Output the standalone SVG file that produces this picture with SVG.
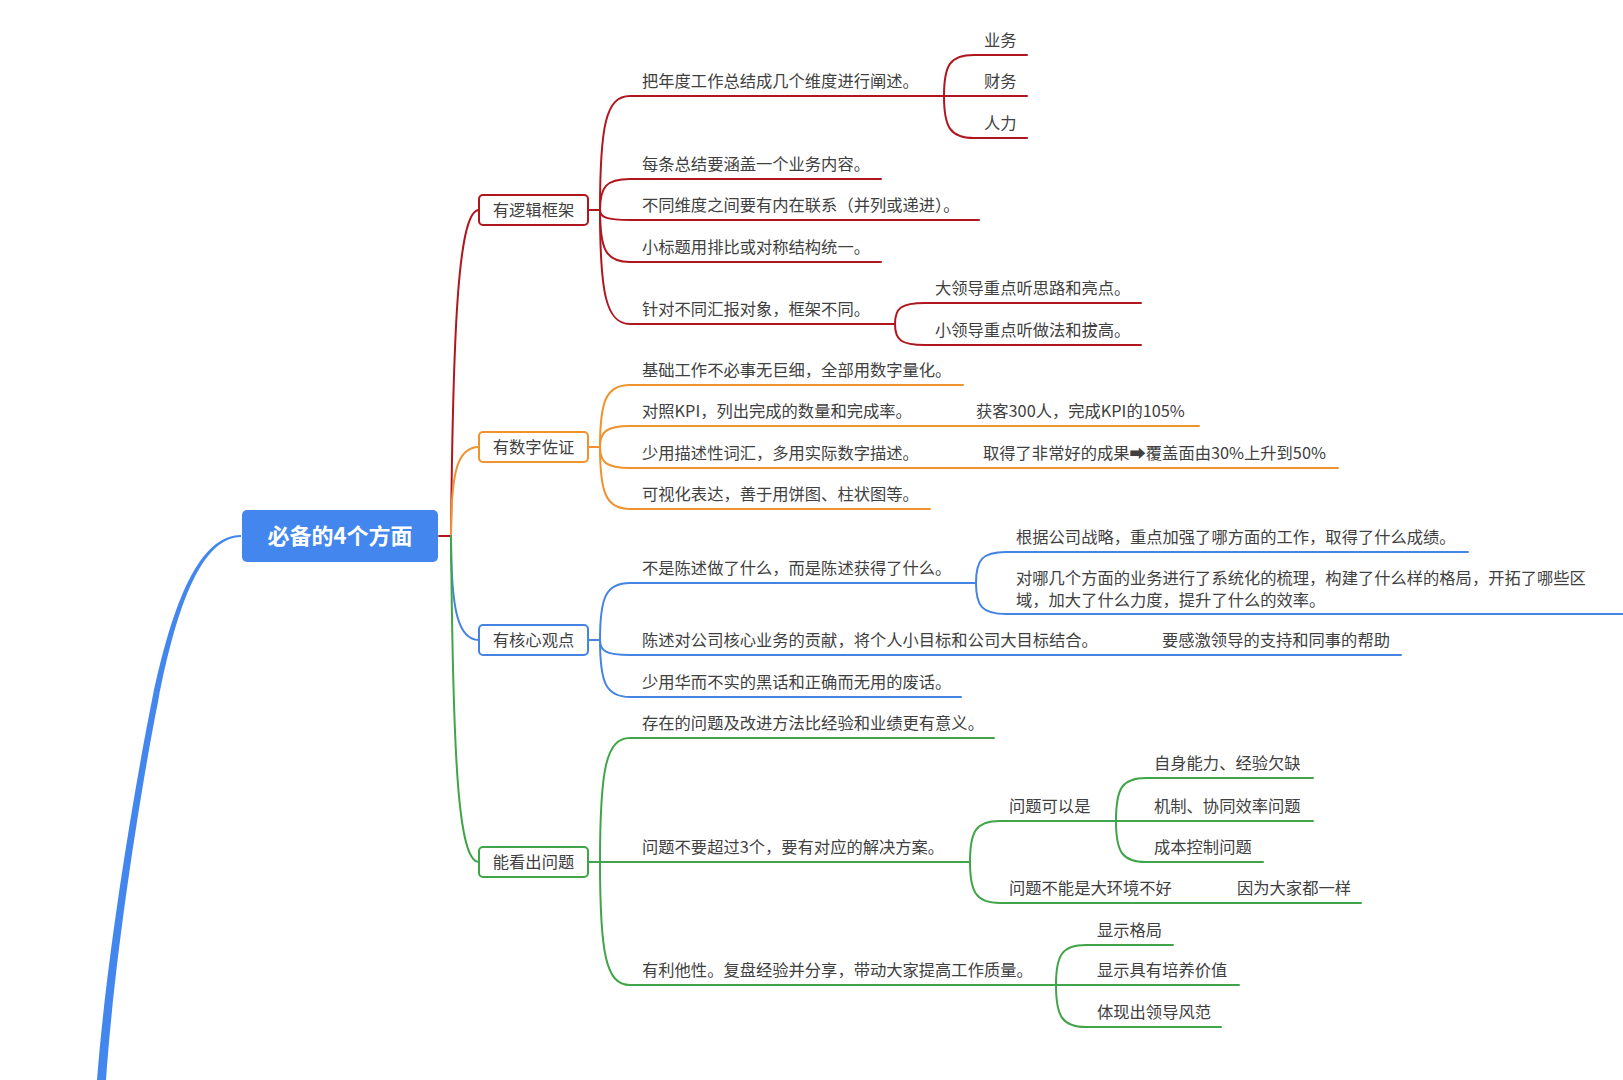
<svg xmlns="http://www.w3.org/2000/svg" width="1623" height="1080" viewBox="0 0 1623 1080">
<style>
text{font-family:"Noto Sans CJK SC","Noto Sans",sans-serif;font-size:16.3px;fill:#404040}
.root{font-size:22px;font-weight:bold;fill:#ffffff}
.c{fill:none;stroke-width:2;stroke-linecap:round}
.r{stroke:#B0161E}.o{stroke:#F0922E}.b{stroke:#4584E2}.g{stroke:#3FA548}
.box{fill:#ffffff;stroke-width:2}
</style>
<rect width="1623" height="1080" fill="#ffffff"/>
<g id="connectors">
<path d="M241,535 C200,535 173,600 152,700 C136,780 107,950 97,1080 L106,1080 C115,950 142,782 158,702 C177,602 203,537 241,537 Z" fill="#4387EE"/>
<path class="c r" d="M439 536 L451 536"/>
<path class="c r" d="M451 536 C453 330 458 210 479 210"/>
<path class="c o" d="M451 536 C451 470 458 447 479 447"/>
<path class="c b" d="M451 536 C451 610 458 640 479 640"/>
<path class="c g" d="M451 536 C453 760 458 862 479 862"/>
<g class="c r">
<path d="M588 210 L600 210"/>
<path d="M600 210 C600 125 606 96 630 96 L944 96 L1027 96"/>
<path d="M944 96 C944 65 950 55 974 55 L1027 55"/>
<path d="M944 96 C944 127 950 138 974 138 L1027 138"/>
<path d="M600 210 C600 187 606 179 630 179 L881 179"/>
<path d="M600 210 C600 217 606 220 630 220 L979 220"/>
<path d="M600 210 C600 250 606 262 630 262 L881 262"/>
<path d="M600 210 C600 293 606 324 630 324 L895 324"/>
<path d="M895 324 C895 308 901 303 925 303 L1141 303"/>
<path d="M895 324 C895 340 901 345 925 345 L1141 345"/>
</g>
<g class="c o">
<path d="M588 447 L600 447"/>
<path d="M600 447 C600 401 606 385 630 385 L963 385"/>
<path d="M600 447 C600 432 606 426 630 426 L1199 426"/>
<path d="M600 447 C600 462 606 468 630 468 L1338 468"/>
<path d="M600 447 C600 493 606 509 630 509 L930 509"/>
</g>
<g class="c b">
<path d="M588 640 L600 640"/>
<path d="M600 640 C600 597 606 583 630 583 L976 583"/>
<path d="M976 583 C976 560 982 552 1006 552 L1468 552"/>
<path d="M976 583 C976 606 982 614 1006 614 L1630 614"/>
<path d="M600 640 C600 651 606 655 630 655 L1401 655"/>
<path d="M600 640 C600 683 606 697 630 697 L961 697"/>
</g>
<g class="c g">
<path d="M588 862 L600 862"/>
<path d="M600 862 C600 769 606 738 630 738 L994 738"/>
<path d="M600 862 L970 862"/>
<path d="M970 862 C970 831 976 821 1000 821 L1116 821 L1313 821"/>
<path d="M1116 821 C1116 788 1122 778 1146 778 L1313 778"/>
<path d="M1116 821 C1116 852 1122 862 1146 862 L1263 862"/>
<path d="M970 862 C970 892 976 903 1000 903 L1361 903"/>
<path d="M600 862 C600 954 606 985 630 985 L1056 985 L1239 985"/>
<path d="M1056 985 C1056 955 1062 945 1086 945 L1173 945"/>
<path d="M1056 985 C1056 1016 1062 1027 1086 1027 L1221 1027"/>
</g>
</g>
<g id="root">
<rect x="242" y="510" width="196" height="52" rx="5" fill="#4387EE"/>
<text class="root" x="340" y="544" text-anchor="middle">必备的4个方面</text>
</g>
<g id="b1">
<rect class="box r" x="479" y="195" width="109" height="30" rx="4"/>
<text x="533.5" y="216" text-anchor="middle">有逻辑框架</text>
</g>
<g id="b2">
<rect class="box o" x="479" y="432" width="109" height="30" rx="4"/>
<text x="533.5" y="453" text-anchor="middle">有数字佐证</text>
</g>
<g id="b3">
<rect class="box b" x="479" y="625" width="109" height="30" rx="4"/>
<text x="533.5" y="646" text-anchor="middle">有核心观点</text>
</g>
<g id="b4">
<rect class="box g" x="479" y="847" width="109" height="30" rx="4"/>
<text x="533.5" y="868" text-anchor="middle">能看出问题</text>
</g>
<g id="r1"><text x="642" y="87">把年度工作总结成几个维度进行阐述。</text></g>
<g id="r1a"><text x="984" y="46">业务</text></g>
<g id="r1b"><text x="984" y="87">财务</text></g>
<g id="r1c"><text x="984" y="129">人力</text></g>
<g id="r2"><text x="642" y="170">每条总结要涵盖一个业务内容。</text></g>
<g id="r3"><text x="642" y="211">不同维度之间要有内在联系（并列或递进）。</text></g>
<g id="r4"><text x="642" y="253">小标题用排比或对称结构统一。</text></g>
<g id="r5"><text x="642" y="315">针对不同汇报对象，框架不同。</text></g>
<g id="r5a"><text x="935" y="294">大领导重点听思路和亮点。</text></g>
<g id="r5b"><text x="935" y="336">小领导重点听做法和拔高。</text></g>
<g id="o1"><text x="642" y="376">基础工作不必事无巨细，全部用数字量化。</text></g>
<g id="o2"><text x="642" y="417">对照KPI，列出完成的数量和完成率。</text></g>
<g id="o2a"><text x="976" y="417">获客300人，完成KPI的105%</text></g>
<g id="o3"><text x="642" y="459">少用描述性词汇，多用实际数字描述。</text></g>
<g id="o3a"><text x="983" y="459">取得了非常好的成果➡覆盖面由30%上升到50%</text></g>
<g id="o4"><text x="642" y="500">可视化表达，善于用饼图、柱状图等。</text></g>
<g id="u1"><text x="642" y="574">不是陈述做了什么，而是陈述获得了什么。</text></g>
<g id="u1a"><text x="1016" y="543">根据公司战略，重点加强了哪方面的工作，取得了什么成绩。</text></g>
<g id="u1b"><text x="1016" y="584">对哪几个方面的业务进行了系统化的梳理，构建了什么样的格局，开拓了哪些区</text><text x="1016" y="606">域，加大了什么力度，提升了什么的效率。</text></g>
<g id="u2"><text x="642" y="646">陈述对公司核心业务的贡献，将个人小目标和公司大目标结合。</text></g>
<g id="u2a"><text x="1162" y="646">要感激领导的支持和同事的帮助</text></g>
<g id="u3"><text x="642" y="688">少用华而不实的黑话和正确而无用的废话。</text></g>
<g id="g1"><text x="642" y="729">存在的问题及改进方法比经验和业绩更有意义。</text></g>
<g id="g2"><text x="642" y="853">问题不要超过3个，要有对应的解决方案。</text></g>
<g id="g2a"><text x="1009" y="812">问题可以是</text></g>
<g id="g2a1"><text x="1154" y="769">自身能力、经验欠缺</text></g>
<g id="g2a2"><text x="1154" y="812">机制、协同效率问题</text></g>
<g id="g2a3"><text x="1154" y="853">成本控制问题</text></g>
<g id="g2b"><text x="1009" y="894">问题不能是大环境不好</text></g>
<g id="g2b1"><text x="1237" y="894">因为大家都一样</text></g>
<g id="g3"><text x="642" y="976">有利他性。复盘经验并分享，带动大家提高工作质量。</text></g>
<g id="g3a"><text x="1097" y="936">显示格局</text></g>
<g id="g3b"><text x="1097" y="976">显示具有培养价值</text></g>
<g id="g3c"><text x="1097" y="1018">体现出领导风范</text></g>
</svg>
